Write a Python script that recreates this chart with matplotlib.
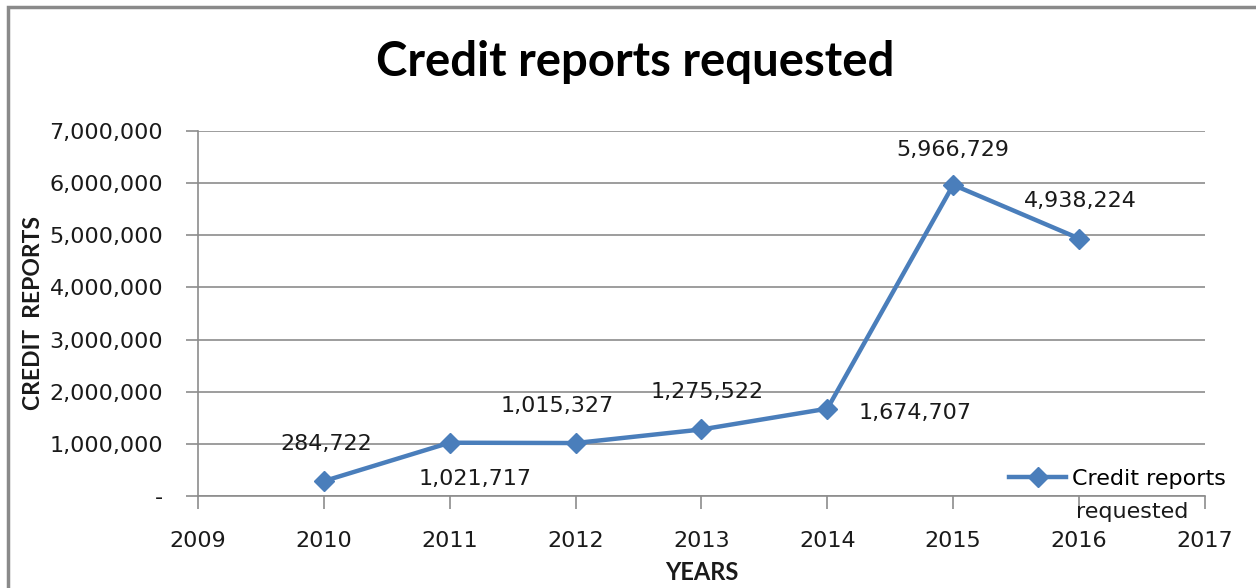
import matplotlib.pyplot as plt
from matplotlib.ticker import FuncFormatter
from matplotlib.patches import Rectangle

plt.rcParams['font.family'] = ['DejaVu Sans']

years = [2010, 2011, 2012, 2013, 2014, 2015, 2016]
reports = [284722, 1021717, 1015327, 1275522, 1674707, 5966729, 4938224]
# label offsets in points (dx, dy) for each data label
label_offsets = [(2, 27), (18, -26), (-13, 27), (4, 27), (63, -3), (0, 25), (1, 27)]

line_blue = '#4a7ebb'
grid_gray = '#8c8c8c'
text_dark = '#1a1a1a'

fig = plt.figure(figsize=(12.56, 5.88), dpi=100)
ax = fig.add_axes([0.1576, 0.1565, 0.8018, 0.6207])

ax.plot(years, reports, color=line_blue, linewidth=3.2, marker='D', markersize=10,
        label='Credit reports')

for x, y, (dx, dy) in zip(years, reports, label_offsets):
    ax.annotate(f"{y:,}", (x, y), xytext=(dx, dy), textcoords='offset points',
                ha='center', va='center', fontsize=16, color=text_dark)

ax.set_xlim(2009, 2017)
ax.set_ylim(0, 7000000)
ax.set_xticks(range(2009, 2018))
ax.set_yticks(range(0, 7000001, 1000000))
ax.yaxis.set_major_formatter(FuncFormatter(lambda v, p: '-' if v == 0 else f"{int(v):,}"))

ax.grid(axis='y', color=grid_gray, linewidth=1.2)
ax.set_axisbelow(True)
for s in ['top', 'right']:
    ax.spines[s].set_visible(False)
for s in ['left', 'bottom']:
    ax.spines[s].set_color(grid_gray)
    ax.spines[s].set_linewidth(1.2)
ax.tick_params(axis='both', colors=grid_gray, labelcolor=text_dark, labelsize=16,
               length=9, width=1.2, direction='out')
ax.tick_params(axis='x', pad=16)
ax.tick_params(axis='y', pad=16)

ax.set_xlabel('YEARS', fontsize=17, fontweight='bold', color=text_dark, family='Lato')
ax.set_ylabel('CREDIT  REPORTS', fontsize=16.5, fontweight='bold', color=text_dark, family='Lato')
ax.xaxis.label.set_va('center')
ax.yaxis.label.set_va('center')
ax.xaxis.set_label_coords(0.5, -0.211)
ax.yaxis.set_label_coords(-0.163, 0.5)

fig.text(0.506, 0.895, 'Credit reports requested', fontsize=34, fontweight='bold',
         family='Lato', ha='center', va='center', color='black')

leg = ax.legend(loc='center left', bbox_to_anchor=(0.805, 0.047), frameon=False, fontsize=16,
                handlelength=2.6, handletextpad=0.25, borderaxespad=0, borderpad=0)
ax.text(0.872, -0.044, 'requested', transform=ax.transAxes, fontsize=16, color=text_dark,
        ha='left', va='center')

fig.patches.append(Rectangle((8 / 1256, -0.05), 1.1, 1 - 7 / 588 + 0.05, transform=fig.transFigure,
                             fill=False, edgecolor='#8a8a8a', linewidth=2.5))

fig.savefig('out.png', dpi=100)
